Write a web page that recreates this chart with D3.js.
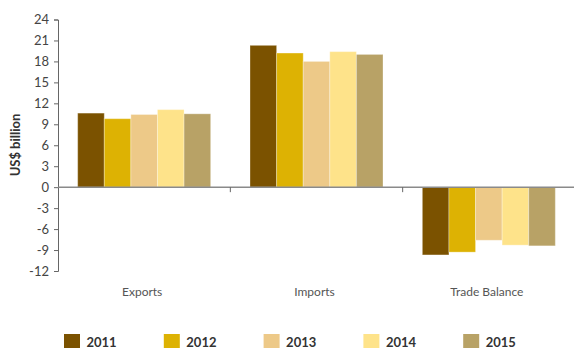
<!DOCTYPE html>
<html>
<head>
<meta charset="utf-8">
<script src="https://cdn.jsdelivr.net/npm/d3@7/dist/d3.min.js"></script>
<style>
  html, body { margin: 0; padding: 0; background: #fff; }
  svg { display: block; font-family: Lato, "Open Sans", sans-serif; }
</style>
</head>
<body>
<svg id="chart" width="574" height="350"></svg>
<script>
// Trade figures, US$ billion
const categories = ["Exports", "Imports", "Trade Balance"];
const years = ["2011", "2012", "2013", "2014", "2015"];
const values2011 = [10.6, 20.3, -9.7];
const values2012 = [9.8, 19.2, -9.3];
const values2013 = [10.4, 18.0, -7.6];
const values2014 = [11.1, 19.4, -8.3];
const values2015 = [10.5, 19.0, -8.4];
const yTicks = [24, 21, 18, 15, 12, 9, 6, 3, 0, -3, -6, -9, -12];
const colors = ["#7b5200", "#ddb203", "#edc988", "#fee38a", "#b8a266"];

const seriesValues = [values2011, values2012, values2013, values2014, values2015];

const svg = d3.select("#chart");
const plotLeft = 58, plotRight = 575, plotTop = 19.5, plotBottom = 271;

const y = d3.scaleLinear().domain([-12, 24]).range([plotBottom, plotTop]);
const x0 = d3.scaleBand().domain(categories).range([plotLeft, plotRight]).padding(0);
const x1 = d3.scaleBand().domain(years).range([0, x0.bandwidth()])
  .paddingInner(0).paddingOuter(0.74);
const color = d3.scaleOrdinal().domain(years).range(colors);

// Bars
const groups = svg.append("g").selectAll("g")
  .data(categories)
  .join("g")
  .attr("transform", d => `translate(${x0(d)},0)`);

groups.selectAll("rect")
  .data((c, ci) => years.map((yr, yi) => ({ year: yr, value: seriesValues[yi][ci] })))
  .join("rect")
  .attr("x", d => x1(d.year))
  .attr("width", x1.bandwidth())
  .attr("y", d => y(Math.max(0, d.value)))
  .attr("height", d => Math.abs(y(d.value) - y(0)))
  .attr("fill", d => color(d.year))
  .attr("stroke", "rgba(255,255,255,0.3)")
  .attr("stroke-width", 1);

// Y axis (plain hyphen for negative labels)
const yAxis = svg.append("g")
  .attr("transform", `translate(${plotLeft},0)`)
  .call(d3.axisLeft(y).tickValues(yTicks).tickSize(4).tickPadding(5).tickFormat(d => String(d)));
yAxis.select(".domain").attr("stroke", "#666");
yAxis.selectAll(".tick line").attr("stroke", "#666");
yAxis.selectAll(".tick text")
  .attr("fill", "#444")
  .style("font-size", "13px")
  .style("font-family", "Lato, sans-serif");

// Zero baseline with category separators
const zeroAxis = svg.append("g").attr("transform", `translate(0,${y(0)})`);
zeroAxis.append("line")
  .attr("x1", plotLeft).attr("x2", 574)
  .attr("stroke", "#8a8a8a").attr("stroke-width", 1.5);
zeroAxis.selectAll(".sep")
  .data(categories.slice(1))
  .join("line")
  .attr("class", "sep")
  .attr("x1", d => x0(d)).attr("x2", d => x0(d))
  .attr("y1", 0).attr("y2", 5)
  .attr("stroke", "#666");

// Category labels
svg.append("g").selectAll("text")
  .data(categories)
  .join("text")
  .attr("x", d => x0(d) + x0.bandwidth() / 2 - 2)
  .attr("y", 296)
  .attr("text-anchor", "middle")
  .attr("fill", "#555")
  .style("font-size", "12px")
  .text(d => d);

// Y axis title
svg.append("text")
  .attr("transform", "translate(20,145) rotate(-90)")
  .attr("text-anchor", "middle")
  .attr("fill", "#333")
  .style("font-size", "13px")
  .style("font-weight", "bold")
  .text("US$ billion");

// Legend
const legend = svg.append("g").selectAll("g")
  .data(years)
  .join("g")
  .attr("transform", (d, i) => `translate(${64 + i * 99.8},334)`);
legend.append("rect")
  .attr("width", 16).attr("height", 14)
  .attr("fill", d => color(d));
legend.append("text")
  .attr("x", 22.5).attr("y", 12.5)
  .attr("fill", "#333")
  .style("font-size", "13px")
  .style("font-weight", "bold")
  .text(d => d);
</script>
</body>
</html>
